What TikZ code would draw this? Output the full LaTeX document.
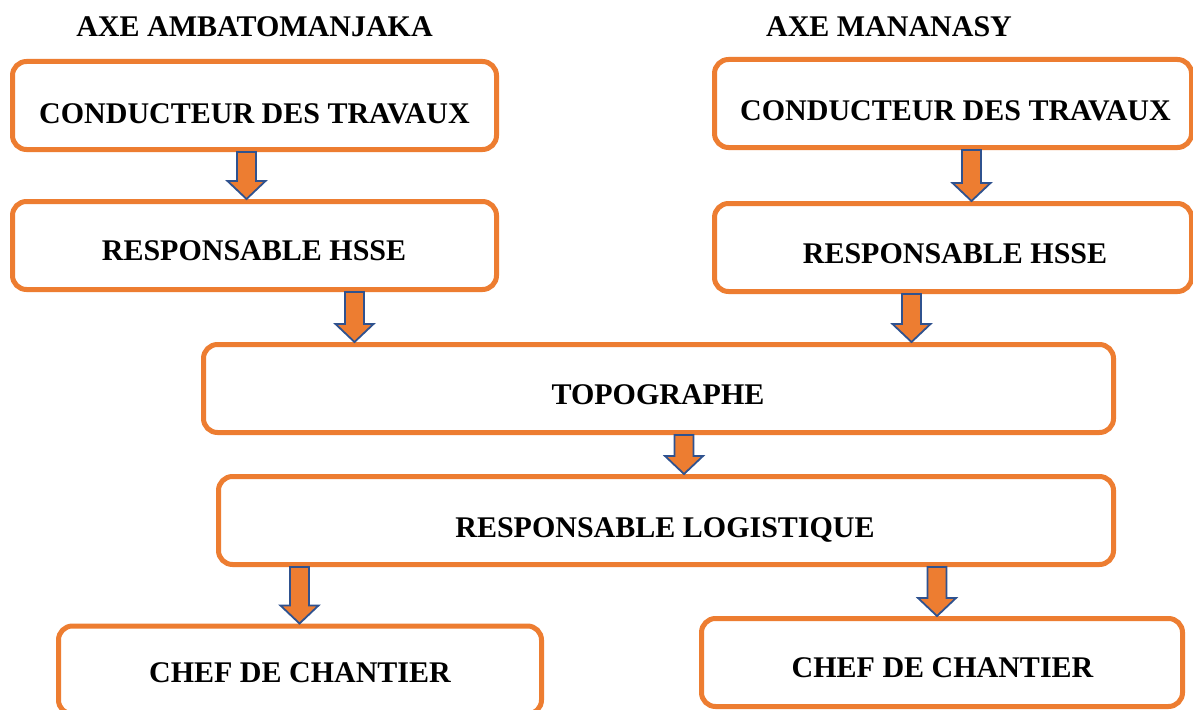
\documentclass[tikz,border=0pt]{standalone}
\usepackage{fontspec}
\setmainfont{Liberation Serif}
\usetikzlibrary{calc}
\definecolor{boxorange}{HTML}{ED7D31}
\definecolor{arrowblue}{HTML}{2F528F}
\tikzset{
  orgbox/.style={draw=boxorange, line width=5pt, rounded corners=14pt, fill=white,
    inner sep=0pt, minimum height=88pt},
  lbl/.style={anchor=base, inner sep=0pt, font=\fontsize{30}{34}\selectfont\bfseries},
  barrow/.style={draw=arrowblue, fill=boxorange, line width=1.8pt, line join=miter},
}
\newcommand\blockarrow[3]{%
  \draw[barrow] let \p1=(#1.south), \p2=(#2.north), \p3=(#3,0) in
    (\x3-9.5pt,\y1) -- (\x3+9.5pt,\y1) -- (\x3+9.5pt,\y2+18pt) -- (\x3+19pt,\y2+18pt)
    -- (\x3,\y2) -- (\x3-19pt,\y2+18pt) -- (\x3-9.5pt,\y2+18pt) -- cycle;}
\begin{document}
\begin{tikzpicture}[x=1pt,y=-1pt]
\useasboundingbox (0,0) rectangle (1193,709);
\clip (0,0) rectangle (1193,709);
\fill[white] (0,0) rectangle (1193,709);
% headers
\node[lbl] (hdl) at (254.5,37) {AXE AMBATOMANJAKA};
\node[lbl] (hdr) at (889,37) {AXE MANANASY};
% boxes
\node[orgbox, minimum width=484pt] (c1) at (254.5,105.5) {};
\node[orgbox, minimum width=477pt] (c2) at (953,103.5) {};
\node[orgbox, minimum width=484pt] (h1) at (254.5,245.5) {};
\node[orgbox, minimum width=477pt] (h2) at (953,247.5) {};
\node[orgbox, minimum width=910pt] (topo) at (658.5,388.5) {};
\node[orgbox, minimum width=895pt] (logi) at (666,520.5) {};
\node[orgbox, minimum width=483pt] (ch1) at (300,670) {};
\node[orgbox, minimum width=481pt] (ch2) at (942,662.5) {};
% texts
\node[lbl] (tc1) at (254.5,123) {CONDUCTEUR DES TRAVAUX};
\node[lbl] (tc2) at (955.5,120) {CONDUCTEUR DES TRAVAUX};
\node[lbl] (th1) at (254,260) {RESPONSABLE HSSE};
\node[lbl] (th2) at (955,263) {RESPONSABLE HSSE};
\node[lbl] (ttopo) at (658,404) {TOPOGRAPHE};
\node[lbl] (tlogi) at (665,537) {RESPONSABLE LOGISTIQUE};
\node[lbl] (tch1) at (300,682) {CHEF DE CHANTIER};
\node[lbl] (tch2) at (942.5,677) {CHEF DE CHANTIER};
% arrows
\blockarrow{c1}{h1}{246.5}
\blockarrow{c2}{h2}{971.5}
\blockarrow{h1}{topo}{354.5}
\blockarrow{h2}{topo}{911.5}
\blockarrow{topo}{logi}{684}
\blockarrow{logi}{ch1}{299.5}
\blockarrow{logi}{ch2}{937}
\end{tikzpicture}
\end{document}
